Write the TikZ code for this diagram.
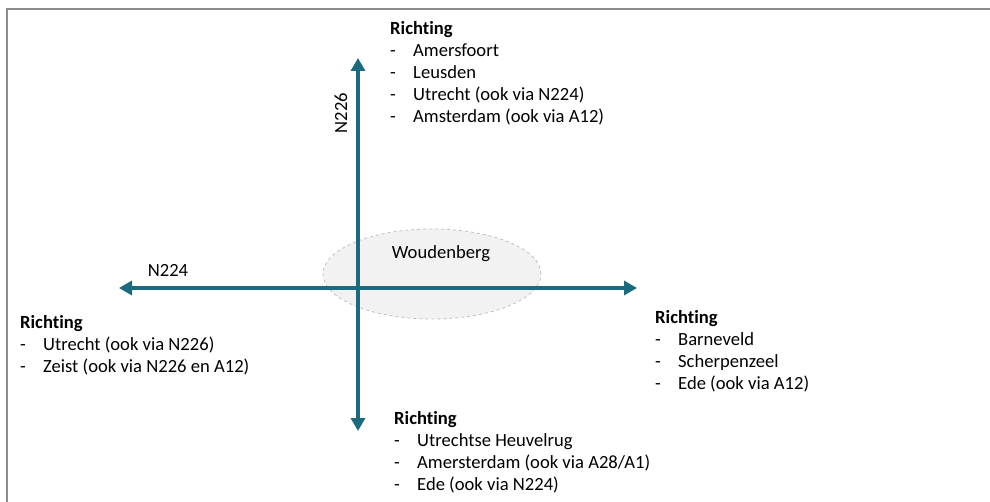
\documentclass[tikz,border=0pt]{standalone}
\usepackage{fontspec}
\setmainfont[Ligatures=NoCommon]{Carlito}
\usetikzlibrary{arrows.meta,shapes.geometric}
\definecolor{road}{HTML}{1B6A7D}
\definecolor{framegray}{HTML}{8C8C8C}
\definecolor{townfill}{HTML}{F2F2F2}
\definecolor{townline}{HTML}{BFBFBF}
\newcommand{\dirline}[1]{\makebox[23pt][l]{-}#1}
\tikzset{
  road/.style={draw=road, line width=4pt, {Triangle[length=13pt,width=14pt]}-{Triangle[length=13pt,width=14pt]}},
  dirblock/.style={anchor=north west, inner sep=0pt, align=left, font=\fontsize{18.6}{22}\selectfont},
  roadlabel/.style={inner sep=0pt, font=\fontsize{18.6}{22}\selectfont},
  town/.style={ellipse, draw=townline, dashed, fill=townfill, line width=0.8pt, minimum width=218pt, minimum height=90pt, inner sep=0pt}
}
\begin{document}
\begin{tikzpicture}[x=1pt,y=-1pt]
\useasboundingbox (0,0) rectangle (990,502);
% outer frame
\draw[framegray, line width=2pt] (7,502) -- (7,9) -- (990,9);
% town
\node[town] (town) at (432,274) {};
\node[roadlabel] (townname) at (441,254) {Woudenberg};
% road ends
\coordinate (north) at (358,58);
\coordinate (south) at (358,431);
\coordinate (west) at (119,288);
\coordinate (east) at (637,288);
\draw[road] (west) -- (east);
\draw[road] (south) -- (north);
% road labels
\node[roadlabel] (n224) at (168,270) {N224};
\node[roadlabel, rotate=90] (n226) at (341,113) {N226};
% destinations
\node[dirblock] (dirN) at (390,21) {\textbf{Richting}\\ \dirline{Amersfoort}\\ \dirline{Leusden}\\ \dirline{Utrecht (ook via N224)}\\ \dirline{Amsterdam (ook via A12)}};
\node[dirblock] (dirW) at (20,315) {\textbf{Richting}\\ \dirline{Utrecht (ook via N226)}\\ \dirline{Zeist (ook via N226 en A12)}};
\node[dirblock] (dirE) at (655,310) {\textbf{Richting}\\ \dirline{Barneveld}\\ \dirline{Scherpenzeel}\\ \dirline{Ede (ook via A12)}};
\node[dirblock] (dirS) at (394,411) {\textbf{Richting}\\ \dirline{Utrechtse Heuvelrug}\\ \dirline{Amersterdam (ook via A28/A1)}\\ \dirline{Ede (ook via N224)}};
\end{tikzpicture}
\end{document}
